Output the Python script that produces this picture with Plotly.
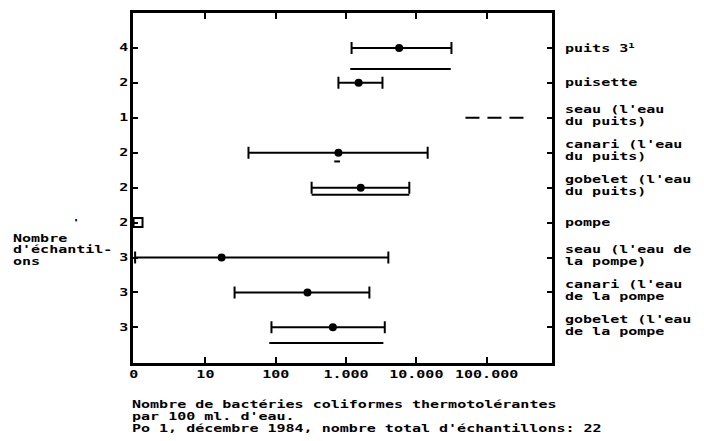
import plotly.graph_objects as go

# ---------------- data ----------------
row_labels = [
    "puits 3<sup>1</sup>",
    "puisette",
    "seau (l'eau\ndu puits)",
    "canari (l'eau\ndu puits)",
    "gobelet (l'eau\ndu puits)",
    "pompe",
    "seau (l'eau de\nla pompe)",
    "canari (l'eau\nde la pompe",
    "gobelet (l'eau\nde la pompe",
]
sample_counts = [4, 2, 1, 2, 2, 2, 3, 3, 3]
medians = [5700, 1510, None, 780, 1620, None, 17, 283, 650]
lows = [1200, 780, 50000, 41, 324, None, 1, 26, 87]
highs = [31600, 3300, 340000, 14500, 7950, None, 4000, 2150, 3560]
range2_low = [1150, None, None, 680, 324, None, None, None, 81]
range2_high = [30900, None, None, 820, 7950, None, None, None, 3400]
zero_value_rows = {5: 1.1}  # pompe: 0 bacteries (drawn at the "0" position)

x_tickvals = [10 ** -0.02, 10, 100, 1000, 10000, 100000]
x_ticktext = ["0", "10", "100", "1.000", "10.000", "100.000"]

title_left = ["Nombre", "d'échantil-", "ons"]
footer = [
    "Nombre de bactéries coliformes thermotolérantes",
    "par 100 ml. d'eau.",
    "Po 1, décembre 1984, nombre total d'échantillons: 22",
]

# ---------------- figure ----------------
FONT = dict(family="DejaVu Sans Mono", size=10, color="black", weight="bold")
rows = list(range(len(row_labels)))

fig = go.Figure()

# points with error bars
pr = [i for i in rows if medians[i] is not None]
fig.add_trace(go.Scatter(
    x=[medians[i] for i in pr], y=pr, mode="markers",
    marker=dict(color="black", size=8),
    error_x=dict(type="data", symmetric=False,
                 array=[highs[i] - medians[i] for i in pr],
                 arrayminus=[medians[i] - lows[i] for i in pr],
                 color="black", thickness=2, width=6),
    showlegend=False, hoverinfo="skip"))

# single-sample range (dashed)
for i in rows:
    if medians[i] is None and lows[i] is not None:
        fig.add_trace(go.Scatter(
            x=[lows[i], highs[i]], y=[i, i], mode="lines",
            line=dict(color="black", width=2, dash="14px,8px"),
            showlegend=False, hoverinfo="skip"))

# secondary range lines under some rows
offsets = {0: 0.6, 3: 0.25, 4: 0.2, 8: 0.45}
for i in rows:
    if range2_low[i] is not None:
        fig.add_trace(go.Scatter(
            x=[range2_low[i], range2_high[i]], y=[i + offsets[i]] * 2, mode="lines",
            line=dict(color="black", width=2),
            showlegend=False, hoverinfo="skip"))

# zero-value marker
for i, v in zero_value_rows.items():
    fig.add_trace(go.Scatter(
        x=[v], y=[i], mode="markers",
        marker=dict(symbol="square-open", size=9, color="black", line=dict(width=2)),
        showlegend=False, hoverinfo="skip"))

annotations = []
# right labels
for i, lab in enumerate(row_labels):
    lines = lab.split("\n")
    shifts = [0] if len(lines) == 1 else [8, -4]
    for ln, sh in zip(lines, shifts):
        annotations.append(dict(
            text=ln, xref="paper", x=1, xshift=11, xanchor="left", align="left",
            yref="y", y=i, yshift=sh, yanchor="middle",
            showarrow=False, font=FONT))

# left title
for k, ln in enumerate(title_left):
    annotations.append(dict(
        text=ln, xref="paper", x=0, xshift=-122, xanchor="left", align="left",
        yref="paper", y=(363 - (237 + 12 * k)) / 353, yanchor="middle",
        showarrow=False, font=FONT))
annotations.append(dict(text="'", xref="paper", x=0, xshift=-63, yref="paper",
                        y=(363 - 222) / 353, showarrow=False, align="left",
                        font=dict(family="DejaVu Sans Mono", size=9, color="black")))

# footer
for k, ln in enumerate(footer):
    annotations.append(dict(
        text=ln, xref="paper", x=0, xshift=-3, xanchor="left", align="left",
        yref="paper", y=(363 - (405 + 12 * k)) / 353, yanchor="middle",
        showarrow=False, font=FONT))

fig.update_layout(
    width=704, height=441,
    margin=dict(l=133, r=152, t=10, b=78),
    paper_bgcolor="white", plot_bgcolor="white",
    font=FONT,
    annotations=annotations,
    xaxis=dict(type="log", range=[-0.03, 5.93],
               tickmode="array", tickvals=x_tickvals, ticktext=x_ticktext,
               ticks="inside", ticklen=6, tickwidth=2, tickcolor="black",
               showline=True, linewidth=2.5, linecolor="black", mirror="ticks",
               showgrid=False, zeroline=False, tickfont=FONT),
    yaxis=dict(range=[9.02, -1],
               tickmode="array", tickvals=rows, ticktext=[str(c) for c in sample_counts],
               ticks="inside", ticklen=5, tickwidth=2, tickcolor="black",
               showline=True, linewidth=2.5, linecolor="black", mirror="ticks",
               showgrid=False, zeroline=False, tickfont=FONT),
)

# the typewriter lettering of the original is wide and squat: widen the glyphs
post = """
var gd = document.getElementById('{plot_id}');
function widen(){
  gd.querySelectorAll('text.annotation-text, g.xtick text, g.ytick text').forEach(function(t){
    if (t.getAttribute('data-wide')) return;
    var w = t.getComputedTextLength();
    if (w > 0) {
      t.setAttribute('textLength', (w * 1.5).toFixed(1));
      t.setAttribute('lengthAdjust', 'spacingAndGlyphs');
      t.setAttribute('data-wide', '1');
    }
  });
}
widen();
if (gd.on) gd.on('plotly_afterplot', widen);
"""

fig.write_html("out.html", post_script=post)
